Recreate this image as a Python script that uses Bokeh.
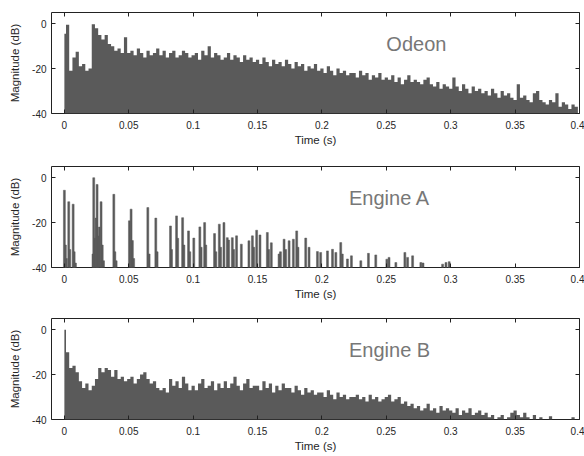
import numpy as np
from bokeh.plotting import figure
from bokeh.models import LinearAxis, FixedTicker, Range1d, Label
from bokeh.layouts import column
from bokeh.embed import file_html
from bokeh.resources import INLINE

# ---------------- data ----------------
x_ticks = [0, 0.05, 0.1, 0.15, 0.2, 0.25, 0.3, 0.35, 0.4]
x_tick_labels = ["0", "0.05", "0.1", "0.15", "0.2", "0.25", "0.3", "0.35", "0.4"]
y_ticks = [-40, -20, 0]
y_tick_labels = ["-40", "-20", "0"]
titles = ["Odeon", "Engine A", "Engine B"]

bin_s = 0.0025  # sample spacing of the dense responses (s)

odeon_db = [
    -4.5, -0.5, -21, -15, -12.5, -19, -18, -21, -20, -0.2,
    -2, -5, -7, -5, -9, -10, -12, -11, -13, -6,
    -13, -12, -14, -11, -13, -15, -12, -14, -13, -11,
    -14, -12, -15, -13, -12, -15, -14, -12, -13, -15,
    -14, -13, -16, -12, -14, -10, -15, -13, -14, -16,
    -15, -13, -16, -14, -15, -17, -14, -16, -15, -17,
    -16, -18, -15, -17, -19, -16, -18, -17, -19, -16,
    -18, -20, -17, -19, -18, -21, -19, -20, -18, -21,
    -20, -22, -19, -21, -23, -20, -22, -21, -23, -22,
    -22, -24, -21, -23, -22, -25, -23, -24, -22, -25,
    -24, -25, -23, -26, -24, -27, -25, -23, -26, -25,
    -26, -27, -25, -24, -27, -28, -26, -29, -27, -28,
    -29, -24, -28, -30, -27, -29, -31, -28, -30, -29,
    -31, -30, -32, -29, -31, -33, -30, -32, -31, -33,
    -34, -27, -33, -32, -34, -35, -31, -30, -34, -35,
    -36, -34, -35, -31, -37, -35, -36, -38, -36, -37,
]

engineB_db = [
    0, -10, -17, -16, -19, -23, -26, -24, -27, -25,
    -22, -17, -19, -17, -18, -21, -18, -22, -21, -23,
    -22, -21, -24, -22, -20, -19, -22, -24, -23, -26,
    -27, -26, -28, -22, -25, -23, -26, -21, -24, -27,
    -25, -27, -24, -22, -26, -25, -23, -27, -24, -26,
    -23, -26, -24, -21, -25, -27, -24, -22, -26, -25,
    -25, -27, -23, -26, -24, -28, -25, -27, -24, -26,
    -26, -28, -25, -27, -29, -26, -28, -27, -29, -28,
    -28, -30, -27, -29, -31, -28, -30, -29, -31, -30,
    -30, -29, -31, -30, -32, -29, -31, -30, -32, -31,
    -30, -29, -32, -31, -30, -33, -32, -34, -33, -35,
    -34, -36, -35, -33, -36, -35, -37, -34, -36, -35,
    -36, -37, -35, -38, -36, -37, -35, -38, -37, -36,
    -38, -37, -39, -38, -40, -39, -38, -40, -39, -37,
    -36, -38, -39, -37, -39, -40, -38, -40, -39, -40,
    -40, -38.5, -40, -40, -40, -40, -40, -40, -39, -40,
]

engineA_t = [
    0.0, 0.0008, 0.0016, 0.0034, 0.0042, 0.0068, 0.0076, 0.0086,
    0.0222, 0.0228, 0.0236, 0.0246, 0.0254, 0.0262, 0.0272, 0.0285, 0.0294, 0.0304,
    0.0384, 0.0392, 0.0402,
    0.0505, 0.0518, 0.0528, 0.0538,
    0.0648, 0.0658, 0.071, 0.072,
    0.0824, 0.0832, 0.0871, 0.088, 0.0918, 0.0928, 0.0964, 0.0974, 0.1005, 0.1052, 0.1062, 0.1089, 0.1098,
    0.1166, 0.1176, 0.1203, 0.1213, 0.1239, 0.1265, 0.1275, 0.1304, 0.1314, 0.1337, 0.1374,
    0.1433, 0.146, 0.147, 0.1493, 0.1519, 0.1576, 0.1586, 0.1607, 0.1667, 0.1678, 0.1706, 0.1718,
    0.1745, 0.1778, 0.1804, 0.1814,
    0.1874, 0.19, 0.1965, 0.199, 0.2043, 0.2082, 0.2108, 0.2146, 0.2158, 0.2198, 0.2229, 0.2302,
    0.2361, 0.2418, 0.2504, 0.2521, 0.2574, 0.2644, 0.2665, 0.2704, 0.2768, 0.2785, 0.2937, 0.2963, 0.2988,
]
engineA_db = [
    -5.6, -30, -36, -10.7, -32, -11.8, -33, -38,
    -34, 0, -27, -18, -3, -26, -22, -10.7, -30, -37,
    -7.4, -33, -37,
    -19.2, -14, -28, -36,
    -13.3, -34, -18, -33,
    -21.5, -32, -17, -27, -17.8, -30, -23.7, -33, -26.9, -21.9, -31, -20, -30,
    -24.9, -33, -20.7, -31, -20, -26.7, -27.8, -26.7, -32, -25.9, -29.6,
    -28.1, -25.9, -31, -23.4, -25.5, -24.4, -32, -29, -34, -33, -27.4, -32,
    -28.1, -27.4, -23.7, -31,
    -26.9, -31, -32.9, -33.3, -32.6, -31.9, -33.3, -28.9, -34, -36.2, -34.8, -37,
    -33.7, -34.4, -36.3, -35.5, -37.8, -33.3, -35.5, -34.8, -37.8, -38, -38.5, -37.8, -37.4,
]
assert len(engineA_t) == len(engineA_db)

# ---------------- style ----------------
FONT = "Liberation Sans"
FILL = "#5a5a5a"
TEXT = "#262626"
FRAME = "#222222"
FLOOR = -40
X_RANGE = (-0.01, 0.4)
Y_RANGE = (-40, 5)


def make_panel(title, title_x, height, border_top, border_bottom):
    p = figure(width=584, height=height, output_backend="svg", toolbar_location=None,
               x_range=Range1d(*X_RANGE), y_range=Range1d(*Y_RANGE),
               min_border_left=51, min_border_right=5,
               min_border_top=border_top, min_border_bottom=border_bottom)
    p.xgrid.visible = False
    p.ygrid.visible = False
    p.outline_line_color = FRAME
    p.outline_line_width = 1
    p.background_fill_color = "white"
    p.border_fill_color = "white"

    xo = dict(zip(x_ticks, x_tick_labels))
    yo = dict(zip(y_ticks, y_tick_labels))
    for ax in p.xaxis:
        ax.ticker = FixedTicker(ticks=x_ticks)
        ax.major_label_overrides = xo
        ax.axis_label = "Time (s)"
    for ax in p.yaxis:
        ax.ticker = FixedTicker(ticks=y_ticks)
        ax.major_label_overrides = yo
        ax.axis_label = "Magnitude (dB)"
    for ax in list(p.xaxis) + list(p.yaxis):
        ax.axis_line_color = None
        ax.major_tick_in = 4
        ax.major_tick_out = 0
        ax.major_tick_line_color = FRAME
        ax.minor_tick_line_color = None
        ax.major_label_text_font = FONT
        ax.major_label_text_font_size = "10px"
        ax.major_label_text_color = TEXT
        ax.axis_label_text_font = FONT
        ax.axis_label_text_font_size = "11.5px"
        ax.axis_label_text_font_style = "normal"
        ax.axis_label_text_color = TEXT
    p.xaxis.major_label_standoff = 7
    p.xaxis.axis_label_standoff = 2
    p.yaxis.major_label_standoff = 5
    p.yaxis.axis_label_standoff = 8

    # tick marks on the top and right edges of the box, without labels
    top = LinearAxis(ticker=FixedTicker(ticks=x_ticks))
    right = LinearAxis(ticker=FixedTicker(ticks=y_ticks))
    for ax in (top, right):
        ax.axis_line_color = None
        ax.major_tick_in = 4
        ax.major_tick_out = 0
        ax.major_tick_line_color = FRAME
        ax.minor_tick_line_color = None
        ax.major_label_text_color = None
        ax.major_label_standoff = 0
    p.add_layout(top, "above")
    p.add_layout(right, "right")

    p.add_layout(Label(x=title_x, y=-9, text=title,
                       text_font=FONT, text_font_size="20px", text_color="#777777",
                       text_align="left", text_baseline="alphabetic"))
    return p


def step_outline(values):
    """Each sample holds its value over its own bin (sample-and-hold)."""
    xs, ys = [], []
    for i, v in enumerate(values):
        c = i * bin_s
        xs += [c - bin_s / 2, c + bin_s / 2]
        ys += [v, v]
    xs[0] = 0.0
    return xs, ys


p1 = make_panel(titles[0], 0.25, 153, 12, 40)
ox, oy = step_outline(odeon_db)
p1.varea(x=ox, y1=FLOOR, y2=oy, fill_color=FILL)

p2 = make_panel(titles[1], 0.221, 153, 13, 39)
p2.vbar(x=engineA_t, top=engineA_db, bottom=FLOOR, width=0.0015,
        fill_color=FILL, line_color=FILL, line_width=0.5)

p3 = make_panel(titles[2], 0.221, 150, 12, 37)
bx, by = step_outline(engineB_db)
p3.varea(x=bx, y1=FLOOR, y2=by, fill_color=FILL)

layout = column(p1, p2, p3, spacing=0)
open("out.html", "w").write(file_html(layout, INLINE))
